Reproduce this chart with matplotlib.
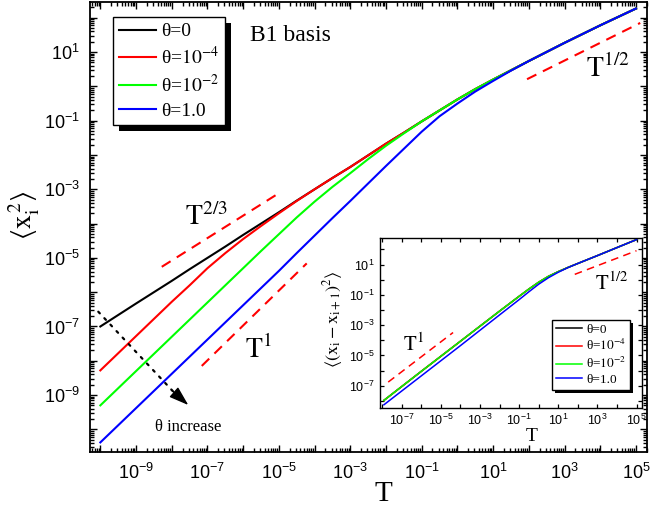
import numpy as np
import matplotlib
matplotlib.use("Agg")
import matplotlib.pyplot as plt
from matplotlib.ticker import FixedLocator, FuncFormatter, LogLocator, NullFormatter, NullLocator
from matplotlib.patches import Rectangle

plt.rcParams['font.family'] = ['Liberation Sans', 'DejaVu Sans']
plt.rcParams['mathtext.fontset'] = 'custom'
plt.rcParams['mathtext.rm'] = 'Liberation Sans'
plt.rcParams['mathtext.it'] = 'Liberation Sans:italic'
plt.rcParams['mathtext.bf'] = 'Liberation Sans:bold'

# ---- main panel, values as log10 ----
logT = [-10, -9, -8, -7.5, -7, -6.5, -6, -5.5, -5, -4.5, -4, -3.5, -3, -2.5,
        -2, -1.5, -1, -0.5, 0, 0.5, 1, 1.5, 2, 3, 4, 5]
x2_theta0 = [-7.00, -6.33, -5.67, -5.33, -5.00, -4.67, -4.33, -4.00, -3.67,
             -3.33, -3.00, -2.67, -2.35, -2.01, -1.67, -1.35, -1.02, -0.70,
             -0.38, -0.08, 0.20, 0.47, 0.74, 1.27, 1.78, 2.27]
x2_theta1em4 = [-8.28, -7.28, -6.28, -5.80, -5.30, -4.86, -4.45, -4.07, -3.70,
                -3.34, -3.00, -2.67, -2.35, -2.01, -1.67, -1.35, -1.02, -0.70,
                -0.38, -0.08, 0.20, 0.47, 0.74, 1.27, 1.78, 2.27]
x2_theta1em2 = [-9.30, -8.30, -7.30, -6.80, -6.30, -5.80, -5.30, -4.80, -4.31,
                -3.82, -3.36, -2.93, -2.53, -2.12, -1.73, -1.37, -1.02, -0.70,
                -0.38, -0.08, 0.20, 0.47, 0.74, 1.27, 1.78, 2.27]
x2_theta1 = [-10.38, -9.38, -8.38, -7.88, -7.38, -6.88, -6.38, -5.88, -5.38,
             -4.86, -4.35, -3.84, -3.34, -2.83, -2.32, -1.82, -1.32, -0.87,
             -0.50, -0.15, 0.16, 0.46, 0.74, 1.27, 1.78, 2.27]

# ---- inset panel: <(x_i - x_{i+1})^2>, log10 ----
logT_in = [-7.9, -6, -4, -2, -1, -0.5, 0, 0.5, 1, 1.5, 2, 3, 4, 5]
dx2_theta_small = [-7.97, -6.06, -4.07, -2.08, -1.10, -0.62, -0.17, 0.22,
                   0.53, 0.81, 1.07, 1.59, 2.12, 2.65]
dx2_theta1 = [-8.26, -6.36, -4.36, -2.33, -1.32, -0.80, -0.30, 0.13,
              0.49, 0.80, 1.07, 1.59, 2.12, 2.65]

labels = ['θ=0', 'θ=$\\mathrm{10^{-4}}$', 'θ=$\\mathrm{10^{-2}}$', 'θ=1.0']
colors = ['black', 'red', '#00ff00', 'blue']

# power-law guide lines, log10 endpoints
guide_23 = ([-8.28, -5.01], [-5.26, -3.12])
guide_1 = ([-7.16, -4.22], [-8.15, -5.16])
guide_12 = ([1.95, 5.12], [0.21, 1.85])
guide_in_1 = ([-7.68, -4.37], [-6.76, -3.49])
guide_in_12 = ([1.84, 4.99], [0.35, 1.91])


def p10(a):
    return np.power(10.0, a)


def decade_label(v, pos):
    k = int(round(np.log10(v)))
    return r'$\mathdefault{10^{%d}}$' % k if k % 2 else ''


def serif(ax, x, y, s, size, **kw):
    ax.text(x, y, s, transform=ax.transAxes, fontsize=size,
            family='Liberation Serif', math_fontfamily='stix',
            ha='center', va='center', **kw)


def make_legend(ax, handles, size, loc, anchor, **kw):
    leg = ax.legend(handles, labels, loc=loc, bbox_to_anchor=anchor,
                    prop={'family': 'Liberation Serif', 'size': size},
                    fancybox=False, framealpha=1, edgecolor='black',
                    borderaxespad=0, **kw)
    leg.get_frame().set_linewidth(1.0)
    for t in leg.get_texts():
        t.set_math_fontfamily('stix')
    return leg


def add_shadow(fig, ax, leg, off):
    r = fig.canvas.get_renderer()
    bb = leg.get_frame().get_window_extent(r)
    inv = ax.transAxes.inverted()
    (x0, y0), (x1, y1) = inv.transform([[bb.x0 + off, bb.y0 - off],
                                        [bb.x1 + off, bb.y1 - off]])
    ax.add_patch(Rectangle((x0, y0), x1 - x0, y1 - y0, transform=ax.transAxes,
                           facecolor='black', edgecolor='none',
                           zorder=4.5, clip_on=False))


fig = plt.figure(figsize=(6.54, 5.08), dpi=100)
ax = fig.add_axes([0.1376, 0.1102, 0.8517, 0.8858])

main_lines = []
for ys, c in zip([x2_theta0, x2_theta1em4, x2_theta1em2, x2_theta1], colors):
    ln, = ax.plot(p10(logT), p10(ys), color=c, lw=1.5)
    main_lines.append(ln)

dash = (0, (5, 3.5))
for gx, gy in [guide_23, guide_1, guide_12]:
    ax.plot(p10(gx), p10(gy), color='red', lw=1.5, linestyle=dash)

ax.set_xscale('log')
ax.set_yscale('log')
ax.set_xlim(p10(-10.29), p10(5.31))
ax.set_ylim(p10(-10.66), p10(2.46))
ax.xaxis.set_major_locator(FixedLocator(p10(np.arange(-10, 6))))
ax.yaxis.set_major_locator(FixedLocator(p10(np.arange(-10, 3))))
ax.xaxis.set_major_formatter(FuncFormatter(decade_label))
ax.yaxis.set_major_formatter(FuncFormatter(decade_label))
for axis in (ax.xaxis, ax.yaxis):
    axis.set_minor_locator(LogLocator(base=10, subs=np.arange(2, 10), numticks=100))
    axis.set_minor_formatter(NullFormatter())
ax.tick_params(which='both', direction='in', top=True, right=True, width=1.0)
ax.tick_params(which='major', length=5, labelsize=13, pad=7.5)
ax.tick_params(which='minor', length=3)
for s in ax.spines.values():
    s.set_linewidth(1.3)

serif(ax, 0.526, -0.093, 'T', 21)
serif(ax, -0.118, 0.527, r'$\langle \mathrm{x_i^{\,2}} \rangle$', 20, rotation=90)
serif(ax, 0.2095, 0.523, r'$\mathrm{T^{2/3}}$', 20)
serif(ax, 0.302, 0.2267, r'$\mathrm{T^{1}}$', 20)
serif(ax, 0.9305, 0.8518, r'$\mathrm{T^{1/2}}$', 20)
ax.text(0.287, 0.9267, 'B1 basis', transform=ax.transAxes, fontsize=17,
        family='Liberation Serif', ha='left', va='center')
serif(ax, 0.176, 0.0562, 'θ increase', 12)

# dotted "theta increase" arrow: dotted shaft plus a solid head
ax.annotate('', xy=(0.152, 0.131), xytext=(0.0149, 0.3118),
            xycoords='axes fraction', textcoords='axes fraction',
            arrowprops=dict(arrowstyle='-', linestyle=(0, (1, 3)), lw=1.6,
                            color='black', shrinkA=0, shrinkB=0))
ax.annotate('', xy=(0.1765, 0.1044), xytext=(0.146, 0.138),
            xycoords='axes fraction', textcoords='axes fraction',
            arrowprops=dict(arrowstyle='-|>,head_length=0.6,head_width=0.2',
                            lw=1.0, color='black', mutation_scale=20,
                            shrinkA=0, shrinkB=0))

leg_main = make_legend(ax, main_lines, 14, 'upper left', (0.041, 0.967),
                       handlelength=1.9, handletextpad=0.3, labelspacing=0.3,
                       borderpad=0.3)

# ---- inset ----
axin = fig.add_axes([0.5810, 0.1978, 0.4006, 0.3343])
in_lines = []
for ys, c in zip([dx2_theta_small, dx2_theta_small, dx2_theta_small, dx2_theta1], colors):
    ln, = axin.plot(p10(logT_in), p10(ys), color=c, lw=1.1)
    in_lines.append(ln)
for gx, gy in [guide_in_1, guide_in_12]:
    axin.plot(p10(gx), p10(gy), color='red', lw=1.1, linestyle=dash)
axin.set_xscale('log')
axin.set_yscale('log')
axin.set_xlim(p10(-8.1), p10(5.27))
axin.set_ylim(p10(-8.44), p10(2.77))
axin.xaxis.set_major_locator(FixedLocator(p10(np.arange(-8, 6))))
axin.yaxis.set_major_locator(FixedLocator(p10(np.arange(-8, 3))))
axin.xaxis.set_major_formatter(FuncFormatter(decade_label))
axin.yaxis.set_major_formatter(FuncFormatter(decade_label))
axin.xaxis.set_minor_locator(NullLocator())
axin.yaxis.set_minor_locator(NullLocator())
axin.tick_params(which='major', direction='in', top=True, right=True,
                 length=3, width=0.9, labelsize=9, pad=4)
for s in axin.spines.values():
    s.set_linewidth(1.0)

serif(axin, 0.579, -0.172, 'T', 14)
serif(axin, -0.179, 0.52, r'$\langle (\mathrm{x_i - x_{i+1}})^2 \rangle$', 13, rotation=90)
serif(axin, 0.127, 0.368, r'$\mathrm{T^{1}}$', 15)
serif(axin, 0.884, 0.731, r'$\mathrm{T^{1/2}}$', 15)

leg_in = make_legend(axin, in_lines, 9.5, 'lower right', (0.954, 0.103),
                     handlelength=2.0, handletextpad=0.28, labelspacing=0.2,
                     borderpad=0.3)

fig.canvas.draw()
add_shadow(fig, ax, leg_main, 6)
add_shadow(fig, axin, leg_in, 3)

fig.savefig('out.png', dpi=100)
